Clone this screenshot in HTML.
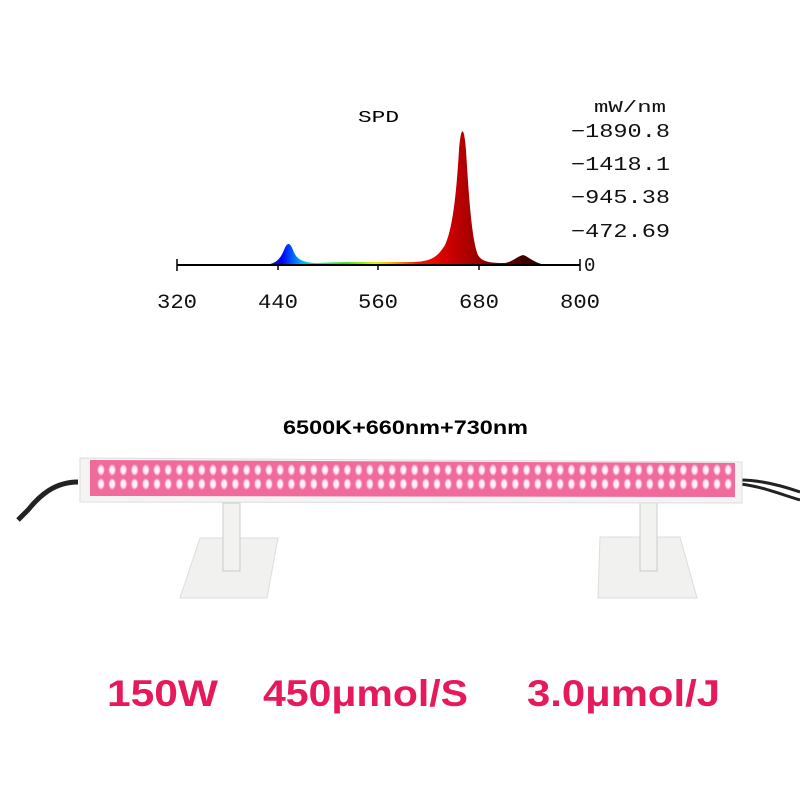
<!DOCTYPE html>
<html><head><meta charset="utf-8"><style>
body{margin:0;background:#fff;width:800px;height:800px;overflow:hidden;}
svg{display:block}
</style></head><body>
<svg width="800" height="800" viewBox="0 0 800 800" xmlns="http://www.w3.org/2000/svg">
<defs>
<linearGradient id="spec" x1="177" x2="580" y1="0" y2="0" gradientUnits="userSpaceOnUse">
<stop offset="0" stop-color="#000"/>
<stop offset="0.2" stop-color="#000030"/>
<stop offset="0.23" stop-color="#1010c0"/>
<stop offset="0.26" stop-color="#0000ff"/>
<stop offset="0.31" stop-color="#00b0ff"/>
<stop offset="0.35" stop-color="#00ff80"/>
<stop offset="0.42" stop-color="#30e000"/>
<stop offset="0.49" stop-color="#e8f000"/>
<stop offset="0.54" stop-color="#ffa000"/>
<stop offset="0.6" stop-color="#ff1000"/>
<stop offset="0.67" stop-color="#d00000"/>
<stop offset="0.76" stop-color="#900000"/>
<stop offset="0.86" stop-color="#400000"/>
<stop offset="1" stop-color="#000"/>
</linearGradient>
<radialGradient id="led"><stop offset="0" stop-color="#fff"/><stop offset="0.55" stop-color="#ffe0ec"/><stop offset="1" stop-color="#f25a92" stop-opacity="0"/></radialGradient>
</defs>
<text x="358" y="122" font-family="Liberation Mono, monospace" font-size="17" textLength="41" lengthAdjust="spacingAndGlyphs">SPD</text>
<g font-family="Liberation Mono, monospace" font-size="19" fill="#111">
<text x="594" y="112" textLength="72" lengthAdjust="spacingAndGlyphs" font-size="17">mW/nm</text>
<text x="571" y="137" textLength="99" lengthAdjust="spacingAndGlyphs">−1890.8</text>
<text x="571" y="170" textLength="99" lengthAdjust="spacingAndGlyphs">−1418.1</text>
<text x="571" y="203" textLength="99" lengthAdjust="spacingAndGlyphs">−945.38</text>
<text x="571" y="237" textLength="99" lengthAdjust="spacingAndGlyphs">−472.69</text>
<text x="584" y="271" font-size="19">0</text>
<g font-size="20">
<text x="157" y="308" textLength="40" lengthAdjust="spacingAndGlyphs">320</text>
<text x="258" y="308" textLength="40" lengthAdjust="spacingAndGlyphs">440</text>
<text x="358" y="308" textLength="40" lengthAdjust="spacingAndGlyphs">560</text>
<text x="459" y="308" textLength="40" lengthAdjust="spacingAndGlyphs">680</text>
<text x="560" y="308" textLength="40" lengthAdjust="spacingAndGlyphs">800</text>
</g></g>
<path d="M177 265 L265 265 C275 264 280 260 284 250 C287 242 290 242 293 250 C296 258 300 262 315 263 C340 262 360 262 410 262 C430 262 437 258 445 245 C452 230 456 200 459 150 C461 125 464 125 466 150 C469 200 472 240 478 255 C482 262 490 263 505 263 C512 262 518 256 523 255 C528 256 532 262 545 265 Z" fill="url(#spec)"/>
<line x1="177" y1="265" x2="580" y2="265" stroke="#000" stroke-width="2"/>
<g stroke="#000" stroke-width="1.5">
<line x1="177" y1="259" x2="177" y2="271"/><line x1="580" y1="259" x2="580" y2="271"/>
<line x1="278" y1="265" x2="278" y2="270"/><line x1="378" y1="265" x2="378" y2="270"/><line x1="479" y1="265" x2="479" y2="270"/>
</g>
<text x="283" y="434" font-family="Liberation Sans, sans-serif" font-weight="bold" font-size="19" textLength="245" lengthAdjust="spacingAndGlyphs">6500K+660nm+730nm</text>
<path d="M78 482 C55 482 40 495 28 510 L18 520" stroke="#222" stroke-width="5" fill="none"/>
<path d="M740 480 C760 480 780 485 800 492" stroke="#222" stroke-width="3" fill="none"/>
<path d="M740 484 C760 486 780 494 800 500" stroke="#222" stroke-width="3" fill="none"/>
<polygon points="200,538 278,538 267,598 180,598" fill="#f1f1ef" stroke="#ddd"/>
<rect x="223" y="503" width="17" height="68" fill="#f2f2f0" stroke="#ccc"/>
<polygon points="600,537 680,537 697,598 598,598" fill="#f1f1ef" stroke="#ddd"/>
<rect x="640" y="503" width="17" height="68" fill="#f2f2f0" stroke="#ccc"/>
<polygon points="80,458 742,462 742,503 80,502" fill="#f4f4f2" stroke="#ddd"/>
<polygon points="90,460 735,463 735,497 90,496" fill="#f06a9c"/>
<g id="leds"></g>
<g font-family="Liberation Sans, sans-serif" font-weight="bold" font-size="37" fill="#e6195a">
<text x="107" y="706" textLength="111" lengthAdjust="spacingAndGlyphs">150W</text>
<text x="263" y="706" textLength="205" lengthAdjust="spacingAndGlyphs">450μmol/S</text>
<text x="527" y="706" textLength="193" lengthAdjust="spacingAndGlyphs">3.0μmol/J</text>
</g>
</svg>
<script>
var g=document.getElementById('leds'),s='';
for(var x=101;x<730;x+=11.2){s+='<ellipse cx="'+x+'" cy="470" rx="4.5" ry="7" fill="url(#led)"/><ellipse cx="'+x+'" cy="484" rx="4.5" ry="7" fill="url(#led)"/>';}
g.innerHTML=s;
</script>
</body></html>
